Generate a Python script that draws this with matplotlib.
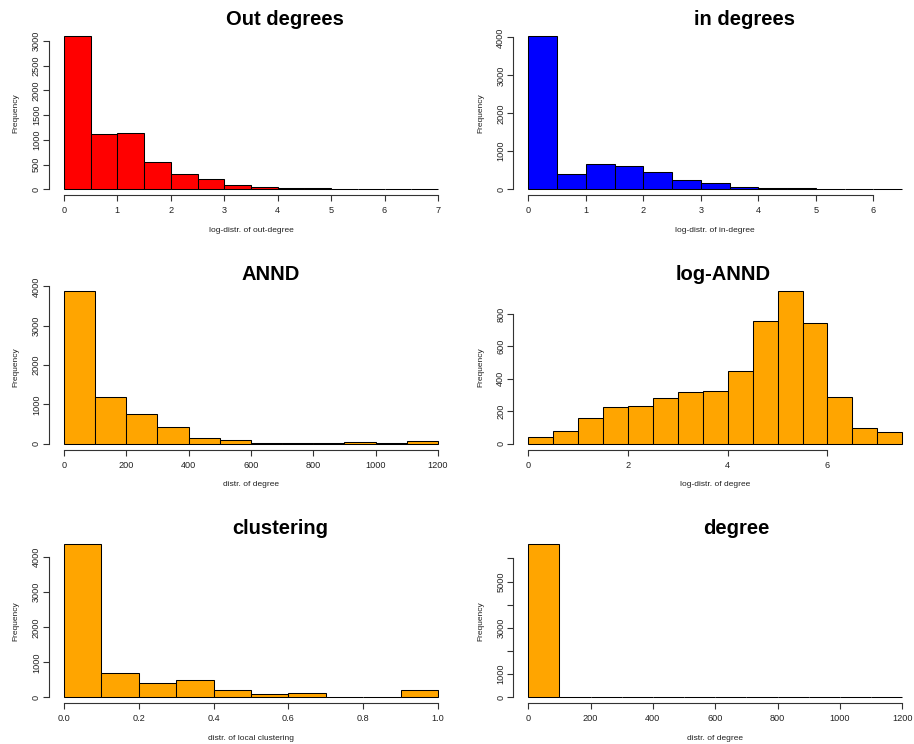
import numpy as np
import matplotlib
matplotlib.use('Agg')
import matplotlib.pyplot as plt

plt.rcParams['font.family'] = ['Liberation Sans', 'DejaVu Sans']

# 各子图的直方图数据
out_edges = np.arange(0, 7.01, 0.5)
out_counts = [3100, 1115, 1135, 550, 305, 197, 88, 45, 32, 15, 10, 0, 0, 1]

in_edges = np.arange(0, 6.51, 0.5)
in_counts = [4030, 405, 670, 615, 450, 245, 160, 70, 26, 22, 1, 0, 1]

annd_edges = np.arange(0, 1201, 100)
annd_counts = [3890, 1180, 755, 415, 145, 105, 30, 30, 12, 55, 12, 70]

logannd_edges = np.arange(0, 7.51, 0.5)
logannd_counts = [39, 78, 156, 224, 230, 282, 319, 323, 446, 755, 944, 742, 286, 99, 70]

clust_edges = np.linspace(0, 1, 11)
clust_counts = [4370, 686, 400, 495, 210, 105, 124, 19, 20, 210]

deg_edges = np.arange(0, 1201, 100)
deg_counts = [6610, 30, 4, 2, 1, 1, 0, 0, 0, 0, 0, 1]

titles = ['Out degrees', 'in degrees', 'ANND', 'log-ANND', 'clustering', 'degree']
xlabels = ['log-distr. of out-degree', 'log-distr. of in-degree', 'distr. of degree',
           'log-distr. of degree', 'distr. of local clustering', 'distr. of degree']
colors = ['#FF0000', '#0000FF', '#FFA500', '#FFA500', '#FFA500', '#FFA500']
xticks = [np.arange(0, 8, 1), np.arange(0, 7, 1), np.arange(0, 1201, 200),
          np.arange(0, 7, 2), np.arange(0, 1.01, 0.2), np.arange(0, 1201, 200)]
yticks = [np.arange(0, 3001, 500), np.arange(0, 4001, 1000), np.arange(0, 4001, 1000),
          np.arange(0, 801, 200), np.arange(0, 4001, 1000), np.arange(0, 6001, 1000)]
edges = [out_edges, in_edges, annd_edges, logannd_edges, clust_edges, deg_edges]
counts = [out_counts, in_counts, annd_counts, logannd_counts, clust_counts, deg_counts]

# 版面（像素）
W, H = 914, 744
col_left = [49.0, 513.3]
row_bottom = [195.3, 449.8, 703.4]
ax_w, ax_h = 403.9, 165.2
title_pos = [(285, 25), (744, 25), (271, 279.7), (723, 279.7), (280, 534.3), (736, 534.3)]

fig = plt.figure(figsize=(W / 100, H / 100), dpi=100)
axcol = '#333333'

for i in range(6):
    r, c = i // 2, i % 2
    ax = fig.add_axes([col_left[c] / W, 1 - row_bottom[r] / H, ax_w / W, ax_h / H])
    e = edges[i]
    cnt = np.array(counts[i])
    ax.bar(e[:-1], cnt, width=np.diff(e), align='edge', color=colors[i],
           edgecolor='black', linewidth=0.75)
    lo, hi = e[0], e[-1]
    rng = hi - lo
    ax.set_xlim(lo - 0.04 * rng, hi + 0.04 * rng)
    ymax = cnt.max()
    ax.set_ylim(-0.04 * ymax, ymax * 1.04)

    ax.spines['top'].set_visible(False)
    ax.spines['right'].set_visible(False)
    for s in ['left', 'bottom']:
        ax.spines[s].set_color(axcol)
        ax.spines[s].set_linewidth(0.8)
    xt, yt = xticks[i], yticks[i]
    ax.set_xticks(xt)
    ax.set_yticks(yt)
    ax.spines['bottom'].set_bounds(xt[0], xt[-1])
    ax.spines['left'].set_bounds(yt[0], yt[-1])

    if i == 4:
        ax.set_xticklabels(['%.1f' % v for v in xt])
    else:
        ax.set_xticklabels(['%d' % v for v in xt])
    if i == 5:
        ax.set_yticklabels(['%d' % v if v in (0, 1000, 3000, 5000) else '' for v in yt])
    else:
        ax.set_yticklabels(['%d' % v for v in yt])

    ax.tick_params(axis='both', length=4.3, width=0.8, color=axcol,
                   labelsize=6.6, labelcolor='#222222')
    ax.tick_params(axis='x', pad=3.5)
    ax.tick_params(axis='y', pad=1.5, labelrotation=90)
    for t in ax.get_yticklabels():
        t.set_verticalalignment('center')

    ax.text(0.5, -34.7 / ax_h, xlabels[i], transform=ax.transAxes, ha='center',
            va='center', fontsize=6, color='#222222')
    ax.text(-32.8 / ax_w, 0.5, 'Frequency', transform=ax.transAxes, rotation=90,
            ha='center', va='center', fontsize=6, color='#222222')

    tx, ty = title_pos[i]
    fig.text(tx / W, 1 - ty / H, titles[i], ha='center', va='baseline',
             fontsize=14.5, fontweight='bold', color='black')

fig.savefig('out.png', dpi=100)
